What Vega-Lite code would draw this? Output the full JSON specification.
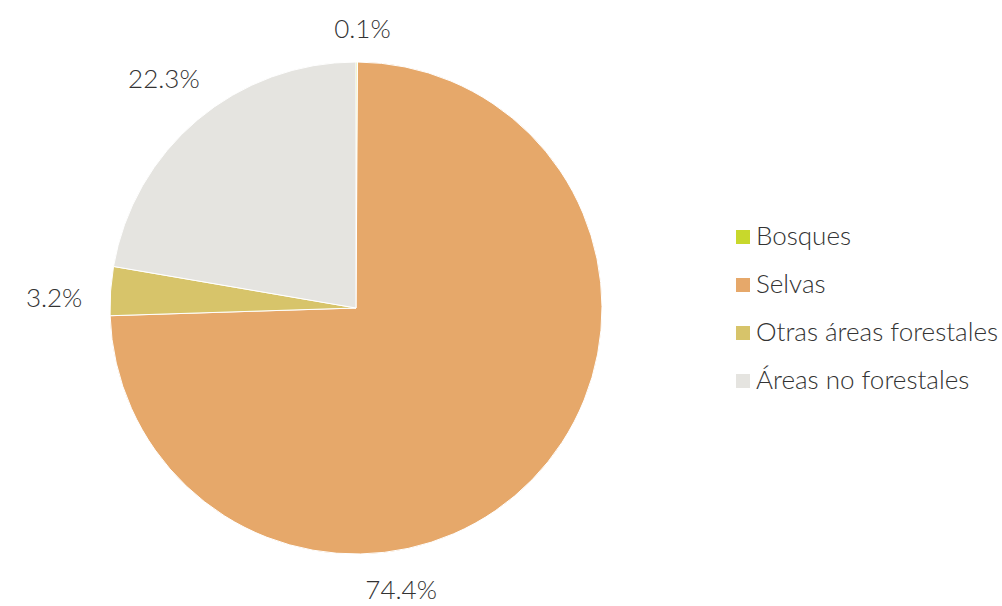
{
  "$schema": "https://vega.github.io/schema/vega-lite/v6.json",
  "width": 712,
  "height": 596,
  "autosize": "none",
  "padding": {"left": 0, "right": 290, "top": 10, "bottom": 0},
  "background": "white",
  "data": {
    "values": [
      {"categoria": "Bosques", "porcentaje": 0.1, "orden": 1},
      {"categoria": "Selvas", "porcentaje": 74.4, "orden": 2},
      {"categoria": "Otras áreas forestales", "porcentaje": 3.2, "orden": 3},
      {"categoria": "Áreas no forestales", "porcentaje": 22.3, "orden": 4}
    ]
  },
  "transform": [
    {"calculate": "format(datum.porcentaje, '.1f') + '%'", "as": "etiqueta"}
  ],
  "encoding": {
    "theta": {"field": "porcentaje", "type": "quantitative", "stack": true},
    "order": {"field": "orden", "type": "quantitative"}
  },
  "layer": [
    {
      "mark": {"type": "arc", "outerRadius": 246, "stroke": "white", "strokeWidth": 1},
      "encoding": {
        "color": {
          "field": "categoria",
          "type": "nominal",
          "scale": {
            "domain": ["Bosques", "Selvas", "Otras áreas forestales", "Áreas no forestales"],
            "range": ["#c8d82c", "#e6a86a", "#d7c46a", "#e5e4e0"]
          },
          "legend": {
            "title": null,
            "orient": "none",
            "legendX": 730,
            "legendY": 214,
            "symbolType": "square",
            "symbolSize": 196,
            "symbolStrokeWidth": 0,
            "labelFont": "Lato",
            "labelFontWeight": 300,
            "labelFontSize": 26,
            "labelColor": "#333333",
            "labelLimit": 320,
            "labelOffset": 0,
            "rowPadding": 22
          }
        }
      }
    },
    {
      "mark": {"type": "text", "font": "Lato", "fontWeight": 300, "fontSize": 26, "color": "#333333", "radius": 298},
      "encoding": {
        "detail": {"field": "categoria", "type": "nominal"},
        "text": {
          "condition": {"test": "datum.categoria === 'Áreas no forestales'", "field": "etiqueta", "type": "nominal"},
          "value": ""
        }
      }
    },
    {
      "mark": {"type": "text", "font": "Lato", "fontWeight": 300, "fontSize": 26, "color": "#333333", "radius": 302, "thetaOffset": -0.04},
      "encoding": {
        "detail": {"field": "categoria", "type": "nominal"},
        "text": {
          "condition": {"test": "datum.categoria === 'Otras áreas forestales'", "field": "etiqueta", "type": "nominal"},
          "value": ""
        }
      }
    },
    {
      "mark": {"type": "text", "font": "Lato", "fontWeight": 300, "fontSize": 26, "color": "#333333", "radius": 278, "thetaOffset": 0.02},
      "encoding": {
        "detail": {"field": "categoria", "type": "nominal"},
        "text": {
          "condition": {"test": "datum.categoria === 'Bosques'", "field": "etiqueta", "type": "nominal"},
          "value": ""
        }
      }
    },
    {
      "mark": {"type": "text", "font": "Lato", "fontWeight": 300, "fontSize": 26, "color": "#333333", "radius": 287, "thetaOffset": 0.64},
      "encoding": {
        "detail": {"field": "categoria", "type": "nominal"},
        "text": {
          "condition": {"test": "datum.categoria === 'Selvas'", "field": "etiqueta", "type": "nominal"},
          "value": ""
        }
      }
    }
  ]
}
